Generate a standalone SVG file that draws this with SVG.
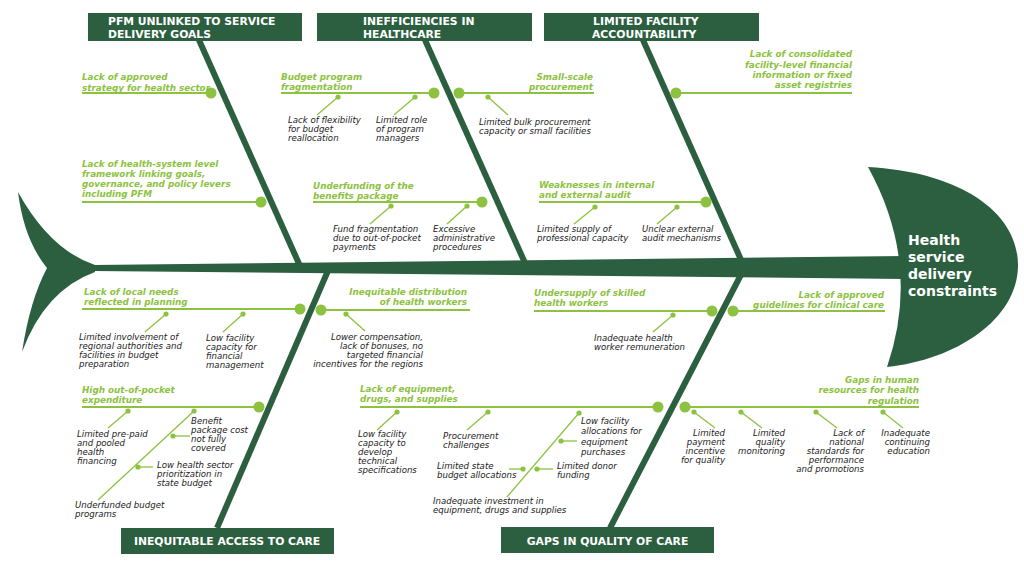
<svg xmlns="http://www.w3.org/2000/svg" width="1024" height="566" viewBox="0 0 1024 566">
<style>
.dk{fill:#2b5f40}
.hdr{font-family:"DejaVu Sans",Verdana,sans-serif;font-size:10.8px;font-weight:bold;fill:#fff}
.head{font-family:"DejaVu Sans",Verdana,sans-serif;font-size:14px;font-weight:bold;fill:#fff}
.lbl{font-family:"DejaVu Sans",Verdana,sans-serif;font-size:8.8px;font-weight:bold;font-style:italic;fill:#8cc23f}
.sub{font-family:"DejaVu Sans",Verdana,sans-serif;font-size:8.6px;font-style:italic;fill:#222}
.end{text-anchor:end}
.bone{stroke:#2b5f40;stroke-width:6;fill:none}
.br{stroke:#8cc23f;stroke-width:2;fill:none}
.tw{stroke:#8cc23f;stroke-width:1.3;fill:none}
.g{fill:#8cc23f}
</style>
<rect width="1024" height="566" fill="#fff"/>

<g id="skeleton">
<path class="dk" d="M95,265 Q50,250 18,192 Q24,240 47,268 Q30,300 22,352 Q45,290 95,272 Z"/>
<polygon class="dk" points="93,265 905,256 905,279 93,271"/>
</g>

<g id="connectors">
<line class="bone" x1="199" y1="40" x2="300" y2="266"/>
<line class="bone" x1="425" y1="40" x2="525" y2="263"/>
<line class="bone" x1="643" y1="40" x2="742" y2="262"/>
<line class="bone" x1="330" y1="266" x2="217" y2="528"/>
<line class="bone" x1="746" y1="265" x2="610" y2="528"/>

<line class="br" x1="82" y1="93" x2="211" y2="93"/>
<line class="br" x1="82" y1="202" x2="261" y2="202"/>
<line class="br" x1="281" y1="93" x2="434" y2="93"/>
<line class="br" x1="459" y1="93" x2="594" y2="93"/>
<line class="br" x1="313" y1="202" x2="482" y2="202"/>
<line class="br" x1="676" y1="93" x2="852" y2="93"/>
<line class="br" x1="539" y1="202" x2="706" y2="202"/>
<line class="br" x1="82" y1="309" x2="300" y2="309"/>
<line class="br" x1="321" y1="310" x2="470" y2="310"/>
<line class="br" x1="82" y1="407" x2="259" y2="407"/>
<line class="br" x1="534" y1="311" x2="712" y2="311"/>
<line class="br" x1="733" y1="311" x2="885" y2="311"/>
<line class="br" x1="360" y1="407" x2="658" y2="407"/>
<line class="br" x1="685" y1="407" x2="919" y2="407"/>

<g class="g">
<circle cx="211" cy="93" r="5.5"/><circle cx="261" cy="202" r="5.5"/>
<circle cx="434" cy="93" r="5.5"/><circle cx="459" cy="93" r="5.5"/>
<circle cx="482" cy="202" r="5.5"/><circle cx="676" cy="93" r="5.5"/>
<circle cx="706" cy="202" r="5.5"/><circle cx="300" cy="309" r="5.5"/>
<circle cx="321" cy="310" r="5.5"/><circle cx="259" cy="407" r="5.5"/>
<circle cx="712" cy="311" r="5.5"/><circle cx="733" cy="311" r="5.5"/>
<circle cx="658" cy="407" r="5.5"/><circle cx="685" cy="407" r="5.5"/>
</g>

<line class="tw" x1="338" y1="97" x2="317" y2="115"/>
<line class="tw" x1="415" y1="97" x2="394" y2="115"/>
<line class="tw" x1="488" y1="97" x2="508" y2="115"/>
<line class="tw" x1="391" y1="206" x2="370" y2="224"/>
<line class="tw" x1="467" y1="206" x2="447" y2="224"/>
<line class="tw" x1="595" y1="207" x2="574" y2="224"/>
<line class="tw" x1="677" y1="207" x2="657" y2="224"/>
<line class="tw" x1="166" y1="314" x2="145" y2="332"/>
<line class="tw" x1="243" y1="314" x2="223" y2="332"/>
<line class="tw" x1="346" y1="314" x2="365" y2="331"/>
<line class="tw" x1="128" y1="411" x2="108" y2="428"/>
<line class="tw" x1="194" y1="411" x2="98" y2="500"/>
<line class="tw" x1="173" y1="436" x2="190" y2="436"/>
<line class="tw" x1="138" y1="467" x2="153" y2="467"/>
<line class="tw" x1="673" y1="315" x2="653" y2="332"/>
<line class="tw" x1="397" y1="412" x2="377" y2="430"/>
<line class="tw" x1="488" y1="412" x2="467" y2="430"/>
<line class="tw" x1="579" y1="413" x2="507" y2="497"/>
<line class="tw" x1="561" y1="441" x2="577" y2="441"/>
<line class="tw" x1="509" y1="469" x2="523" y2="469"/>
<line class="tw" x1="537" y1="469" x2="553" y2="469"/>
<line class="tw" x1="694" y1="412" x2="715" y2="428"/>
<line class="tw" x1="741" y1="412" x2="762" y2="428"/>
<line class="tw" x1="816" y1="412" x2="837" y2="428"/>
<line class="tw" x1="883" y1="412" x2="903" y2="428"/>

<g class="g">
<circle cx="338" cy="97" r="2.6"/><circle cx="415" cy="97" r="2.6"/>
<circle cx="488" cy="97" r="2.6"/><circle cx="391" cy="206" r="2.6"/>
<circle cx="467" cy="206" r="2.6"/><circle cx="595" cy="207" r="2.6"/>
<circle cx="677" cy="207" r="2.6"/><circle cx="166" cy="314" r="2.6"/>
<circle cx="243" cy="314" r="2.6"/><circle cx="346" cy="314" r="2.6"/>
<circle cx="128" cy="411" r="2.6"/><circle cx="194" cy="411" r="2.6"/>
<circle cx="173" cy="436" r="2.6"/><circle cx="138" cy="467" r="2.6"/>
<circle cx="673" cy="315" r="2.6"/><circle cx="397" cy="412" r="2.6"/>
<circle cx="488" cy="412" r="2.6"/><circle cx="579" cy="413" r="2.6"/>
<circle cx="561" cy="441" r="2.6"/><circle cx="523" cy="469" r="2.6"/>
<circle cx="537" cy="469" r="2.6"/><circle cx="694" cy="412" r="2.6"/>
<circle cx="741" cy="412" r="2.6"/><circle cx="816" cy="412" r="2.6"/>
<circle cx="883" cy="412" r="2.6"/>
</g>
</g>

<g id="head">
<path class="dk" d="M868,167 C960,172 1018,212 1018,265 C1018,320 955,360 887,367 Q922,265 868,167 Z"/>
<text class="head" x="908"><tspan x="908" y="245">Health</tspan><tspan x="908" y="262">service</tspan><tspan x="908" y="279">delivery</tspan><tspan x="908" y="296">constraints</tspan></text>
</g>

<g id="cat-pfm">
<rect class="dk" x="88" y="13" width="214" height="28"/>
<text class="hdr"><tspan x="108" y="24.8">PFM UNLINKED TO SERVICE</tspan><tspan x="108" y="37.6">DELIVERY GOALS</tspan></text>
</g>
<g id="cat-ineff">
<rect class="dk" x="317" y="13" width="215" height="28"/>
<text class="hdr"><tspan x="363" y="24.8">INEFFICIENCIES IN</tspan><tspan x="363" y="37.6">HEALTHCARE</tspan></text>
</g>
<g id="cat-account">
<rect class="dk" x="544" y="13" width="215" height="28"/>
<text class="hdr"><tspan x="593" y="24.8">LIMITED FACILITY</tspan><tspan x="592" y="37.6">ACCOUNTABILITY</tspan></text>
</g>
<g id="cat-access">
<rect class="dk" x="121" y="528" width="213" height="26"/>
<text class="hdr" x="227" y="545" text-anchor="middle">INEQUITABLE ACCESS TO CARE</text>
</g>
<g id="cat-quality">
<rect class="dk" x="501" y="527" width="213" height="26"/>
<text class="hdr" x="607.5" y="545" text-anchor="middle">GAPS IN QUALITY OF CARE</text>
</g>

<g id="cause-strategy"><text class="lbl"><tspan x="82" y="80">Lack of approved</tspan><tspan x="82" y="90.5">strategy for health sector</tspan></text></g>
<g id="cause-framework"><text class="lbl"><tspan x="82" y="166.5">Lack of health-system level</tspan><tspan x="82" y="177">framework linking goals,</tspan><tspan x="82" y="187">governance, and policy levers</tspan><tspan x="82" y="197">including PFM</tspan></text></g>

<g id="cause-budget"><text class="lbl"><tspan x="281" y="80">Budget program</tspan><tspan x="281" y="90">fragmentation</tspan></text>
<text class="sub"><tspan x="288" y="123">Lack of flexibility</tspan><tspan x="288" y="132">for budget</tspan><tspan x="288" y="140.5">reallocation</tspan></text>
<text class="sub"><tspan x="376" y="123">Limited role</tspan><tspan x="376" y="132">of program</tspan><tspan x="376" y="140.5">managers</tspan></text></g>
<g id="cause-procurement"><text class="lbl end"><tspan x="593" y="80">Small-scale</tspan><tspan x="593" y="90">procurement</tspan></text>
<text class="sub"><tspan x="479" y="124.5">Limited bulk procurement</tspan><tspan x="479" y="133.5">capacity or small facilities</tspan></text></g>
<g id="cause-benefits"><text class="lbl"><tspan x="313" y="188.5">Underfunding of the</tspan><tspan x="313" y="198.5">benefits package</tspan></text>
<text class="sub"><tspan x="333" y="232">Fund fragmentation</tspan><tspan x="333" y="241">due to out-of-pocket</tspan><tspan x="333" y="250">payments</tspan></text>
<text class="sub"><tspan x="433" y="232">Excessive</tspan><tspan x="433" y="241">administrative</tspan><tspan x="433" y="250">procedures</tspan></text></g>

<g id="cause-info"><text class="lbl end"><tspan x="852" y="57">Lack of consolidated</tspan><tspan x="852" y="67.5">facility-level financial</tspan><tspan x="852" y="78">information or fixed</tspan><tspan x="852" y="88">asset registries</tspan></text></g>
<g id="cause-audit"><text class="lbl"><tspan x="539" y="187.5">Weaknesses in internal</tspan><tspan x="539" y="198">and external audit</tspan></text>
<text class="sub"><tspan x="537" y="232">Limited supply of</tspan><tspan x="537" y="241">professional capacity</tspan></text>
<text class="sub"><tspan x="642" y="232">Unclear external</tspan><tspan x="642" y="241">audit mechanisms</tspan></text></g>

<g id="cause-local"><text class="lbl"><tspan x="84" y="294.5">Lack of local needs</tspan><tspan x="84" y="304.5">reflected in planning</tspan></text>
<text class="sub"><tspan x="79" y="339.5">Limited involvement of</tspan><tspan x="79" y="348.5">regional authorities and</tspan><tspan x="79" y="357.5">facilities in budget</tspan><tspan x="79" y="366.5">preparation</tspan></text>
<text class="sub"><tspan x="206" y="340.5">Low facility</tspan><tspan x="206" y="349.5">capacity for</tspan><tspan x="206" y="358.5">financial</tspan><tspan x="206" y="367.5">management</tspan></text></g>
<g id="cause-distribution"><text class="lbl end"><tspan x="467" y="295">Inequitable distribution</tspan><tspan x="467" y="305">of health workers</tspan></text>
<text class="sub end"><tspan x="423" y="339.5">Lower compensation,</tspan><tspan x="423" y="348.5">lack of bonuses, no</tspan><tspan x="423" y="357.5">targeted financial</tspan><tspan x="423" y="366.5">incentives for the regions</tspan></text></g>
<g id="cause-oop"><text class="lbl"><tspan x="82" y="392.5">High out-of-pocket</tspan><tspan x="82" y="403">expenditure</tspan></text>
<text class="sub"><tspan x="77" y="437">Limited pre-paid</tspan><tspan x="77" y="446">and pooled</tspan><tspan x="77" y="455">health</tspan><tspan x="77" y="464">financing</tspan></text>
<text class="sub"><tspan x="191" y="424">Benefit</tspan><tspan x="191" y="433">package cost</tspan><tspan x="191" y="442">not fully</tspan><tspan x="191" y="451">covered</tspan></text>
<text class="sub"><tspan x="157" y="468">Low health sector</tspan><tspan x="157" y="477">prioritization in</tspan><tspan x="157" y="486">state budget</tspan></text>
<text class="sub"><tspan x="75" y="508">Underfunded budget</tspan><tspan x="75" y="517">programs</tspan></text></g>

<g id="cause-undersupply"><text class="lbl"><tspan x="534" y="296">Undersupply of skilled</tspan><tspan x="534" y="306">health workers</tspan></text>
<text class="sub"><tspan x="594" y="340.5">Inadequate health</tspan><tspan x="594" y="349.5">worker remuneration</tspan></text></g>
<g id="cause-guidelines"><text class="lbl end"><tspan x="884" y="297.5">Lack of approved</tspan><tspan x="884" y="307.5">guidelines for clinical care</tspan></text></g>
<g id="cause-equipment"><text class="lbl"><tspan x="360" y="391.5">Lack of equipment,</tspan><tspan x="360" y="401.5">drugs, and supplies</tspan></text>
<text class="sub"><tspan x="358" y="436.5">Low facility</tspan><tspan x="358" y="445.5">capacity to</tspan><tspan x="358" y="454.5">develop</tspan><tspan x="358" y="463.5">technical</tspan><tspan x="358" y="472.5">specifications</tspan></text>
<text class="sub"><tspan x="443" y="438.5">Procurement</tspan><tspan x="443" y="447.5">challenges</tspan></text>
<text class="sub"><tspan x="581" y="424">Low facility</tspan><tspan x="581" y="434.3">allocations for</tspan><tspan x="581" y="444.6">equipment</tspan><tspan x="581" y="455">purchases</tspan></text>
<text class="sub"><tspan x="437" y="468.5">Limited state</tspan><tspan x="437" y="477.5">budget allocations</tspan></text>
<text class="sub"><tspan x="557" y="468.5">Limited donor</tspan><tspan x="557" y="477.5">funding</tspan></text>
<text class="sub"><tspan x="433" y="503.5">Inadequate investment in</tspan><tspan x="433" y="512.5">equipment, drugs and supplies</tspan></text></g>
<g id="cause-hr"><text class="lbl end"><tspan x="919" y="383">Gaps in human</tspan><tspan x="919" y="393">resources for health</tspan><tspan x="919" y="403.5">regulation</tspan></text>
<text class="sub end"><tspan x="725" y="436">Limited</tspan><tspan x="725" y="445">payment</tspan><tspan x="725" y="454">incentive</tspan><tspan x="725" y="463">for quality</tspan></text>
<text class="sub end"><tspan x="785" y="436">Limited</tspan><tspan x="785" y="445">quality</tspan><tspan x="785" y="454">monitoring</tspan></text>
<text class="sub end"><tspan x="864" y="436">Lack of</tspan><tspan x="864" y="445">national</tspan><tspan x="864" y="454">standards for</tspan><tspan x="864" y="463">performance</tspan><tspan x="864" y="472">and promotions</tspan></text>
<text class="sub end"><tspan x="930" y="436">Inadequate</tspan><tspan x="930" y="445">continuing</tspan><tspan x="930" y="454">education</tspan></text></g>
</svg>
